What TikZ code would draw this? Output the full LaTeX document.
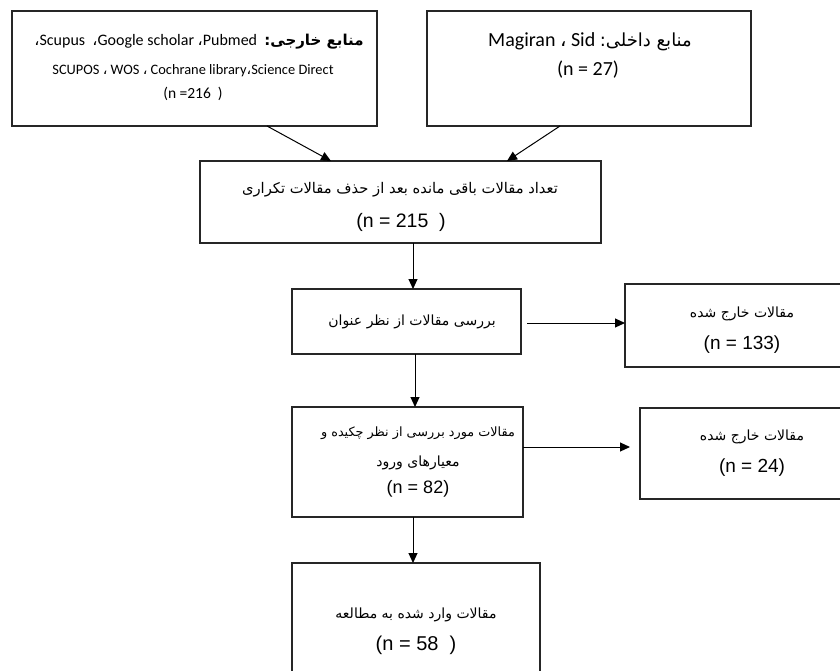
\documentclass[tikz,border=0pt]{standalone}
\usepackage{fontspec}
\setmainfont{Liberation Sans}
\newfontfamily\calfont{Carlito}
\newfontfamily\arfont[Script=Arabic]{DejaVu Sans}
\TeXXeTstate=1
\usetikzlibrary{arrows.meta}
\newcommand{\fa}[1]{{\arfont\beginR #1\endR}}
\newcommand{\fs}[1]{\fontsize{#1}{#1}\selectfont}
\begin{document}
\begin{tikzpicture}[x=1pt,y=-1pt,
  box/.style={draw=black!85, line width=1.1pt, rectangle, inner sep=0pt, outer sep=0pt},
  txt/.style={inner sep=0pt, anchor=center, align=center},
  arr/.style={draw=black, line width=1pt, -{Triangle[length=10pt,width=9pt]}}]
\useasboundingbox (0,0) rectangle (840,670);
\clip (0,0) rectangle (840,670);
% boxes
\node[box, minimum width=365pt, minimum height=115pt] (b1) at (194.5,68.5) {};
\node[box, minimum width=324pt, minimum height=115pt] (b2) at (589,68.5) {};
\node[box, minimum width=401pt, minimum height=82pt] (b3) at (400.5,202) {};
\node[box, minimum width=229pt, minimum height=65pt] (b4) at (406.5,321.5) {};
\node[box, minimum width=234pt, minimum height=83pt] (b5) at (742,325.5) {};
\node[box, minimum width=231pt, minimum height=110pt] (b6) at (407.5,462) {};
\node[box, minimum width=224pt, minimum height=91pt] (b7) at (752,453.5) {};
\node[box, minimum width=248pt, minimum height=117pt] (b8) at (416,621.5) {};
% texts
\node[txt] (t1a) at (199,42) {\calfont\fs{16}{\arfont ،}Scupus\ \ {\arfont ،}Google scholar {\arfont ،}Pubmed\ \ {\bfseries\fs{15}\fa{منابع خارجی:}}};
\node[txt] (t1b) at (193,71) {\calfont\fs{14.4}SCUPOS {\arfont ،} WOS {\arfont ،} Cochrane library{\arfont ،}Science Direct};
\node[txt] (t1c) at (193,94) {\calfont\fs{15.5}(n =216\ \ )};
\node[txt] (t2a) at (590,42) {\calfont\fs{20}Magiran {\arfont ،} Sid \fa{\fs{18}منابع داخلی:}};
\node[txt] (t2b) at (588,70) {\calfont\fs{20}(n = 27)};
\node[txt] (t3a) at (400,190) {\fs{14.7}\fa{تعداد مقالات باقی مانده بعد از حذف مقالات تکراری}};
\node[txt] (t3b) at (401,222) {\fs{19.5}(n = 215\ \ )};
\node[txt] (t4a) at (412,322) {\fs{14}\fa{بررسی مقالات از نظر عنوان}};
\node[txt] (t5a) at (742,314) {\fs{14}\fa{مقالات خارج شده}};
\node[txt] (t5b) at (742,345) {\fs{19}(n = 133)};
\node[txt] (t6a) at (418,433) {\fs{12.8}\fa{مقالات مورد بررسی از نظر چکیده و}};
\node[txt] (t6b) at (418,463) {\fs{14}\fa{معیارهای ورود}};
\node[txt] (t6c) at (418,489) {\fs{18}(n = 82)};
\node[txt] (t7a) at (752,437) {\fs{14}\fa{مقالات خارج شده}};
\node[txt] (t7b) at (752,468) {\fs{19}(n = 24)};
\node[txt] (t8a) at (416,615) {\fs{14}\fa{مقالات وارد شده به مطالعه}};
\node[txt] (t8b) at (416,645) {\fs{20}(n = 58\ \ )};
% connectors
\draw[arr] (b1.south -| 267,0) -- (b3.north -| 331,0);
\draw[arr] (b2.south -| 560,0) -- (b3.north -| 507,0);
\draw[arr] (b3.south -| 413,0) -- (b4.north -| 413,0);
\draw[arr] (b4.east |- 0,323) ++(6,0) -- (b5.west |- 0,323);
\draw[arr] (b4.south -| 415,0) -- (b6.north -| 415,0);
\draw[arr] (b6.east |- 0,447) -- ([xshift=-10pt]b7.west |- 0,447);
\draw[arr] (b6.south -| 413,0) -- (b8.north -| 413,0);
\end{tikzpicture}
\end{document}
